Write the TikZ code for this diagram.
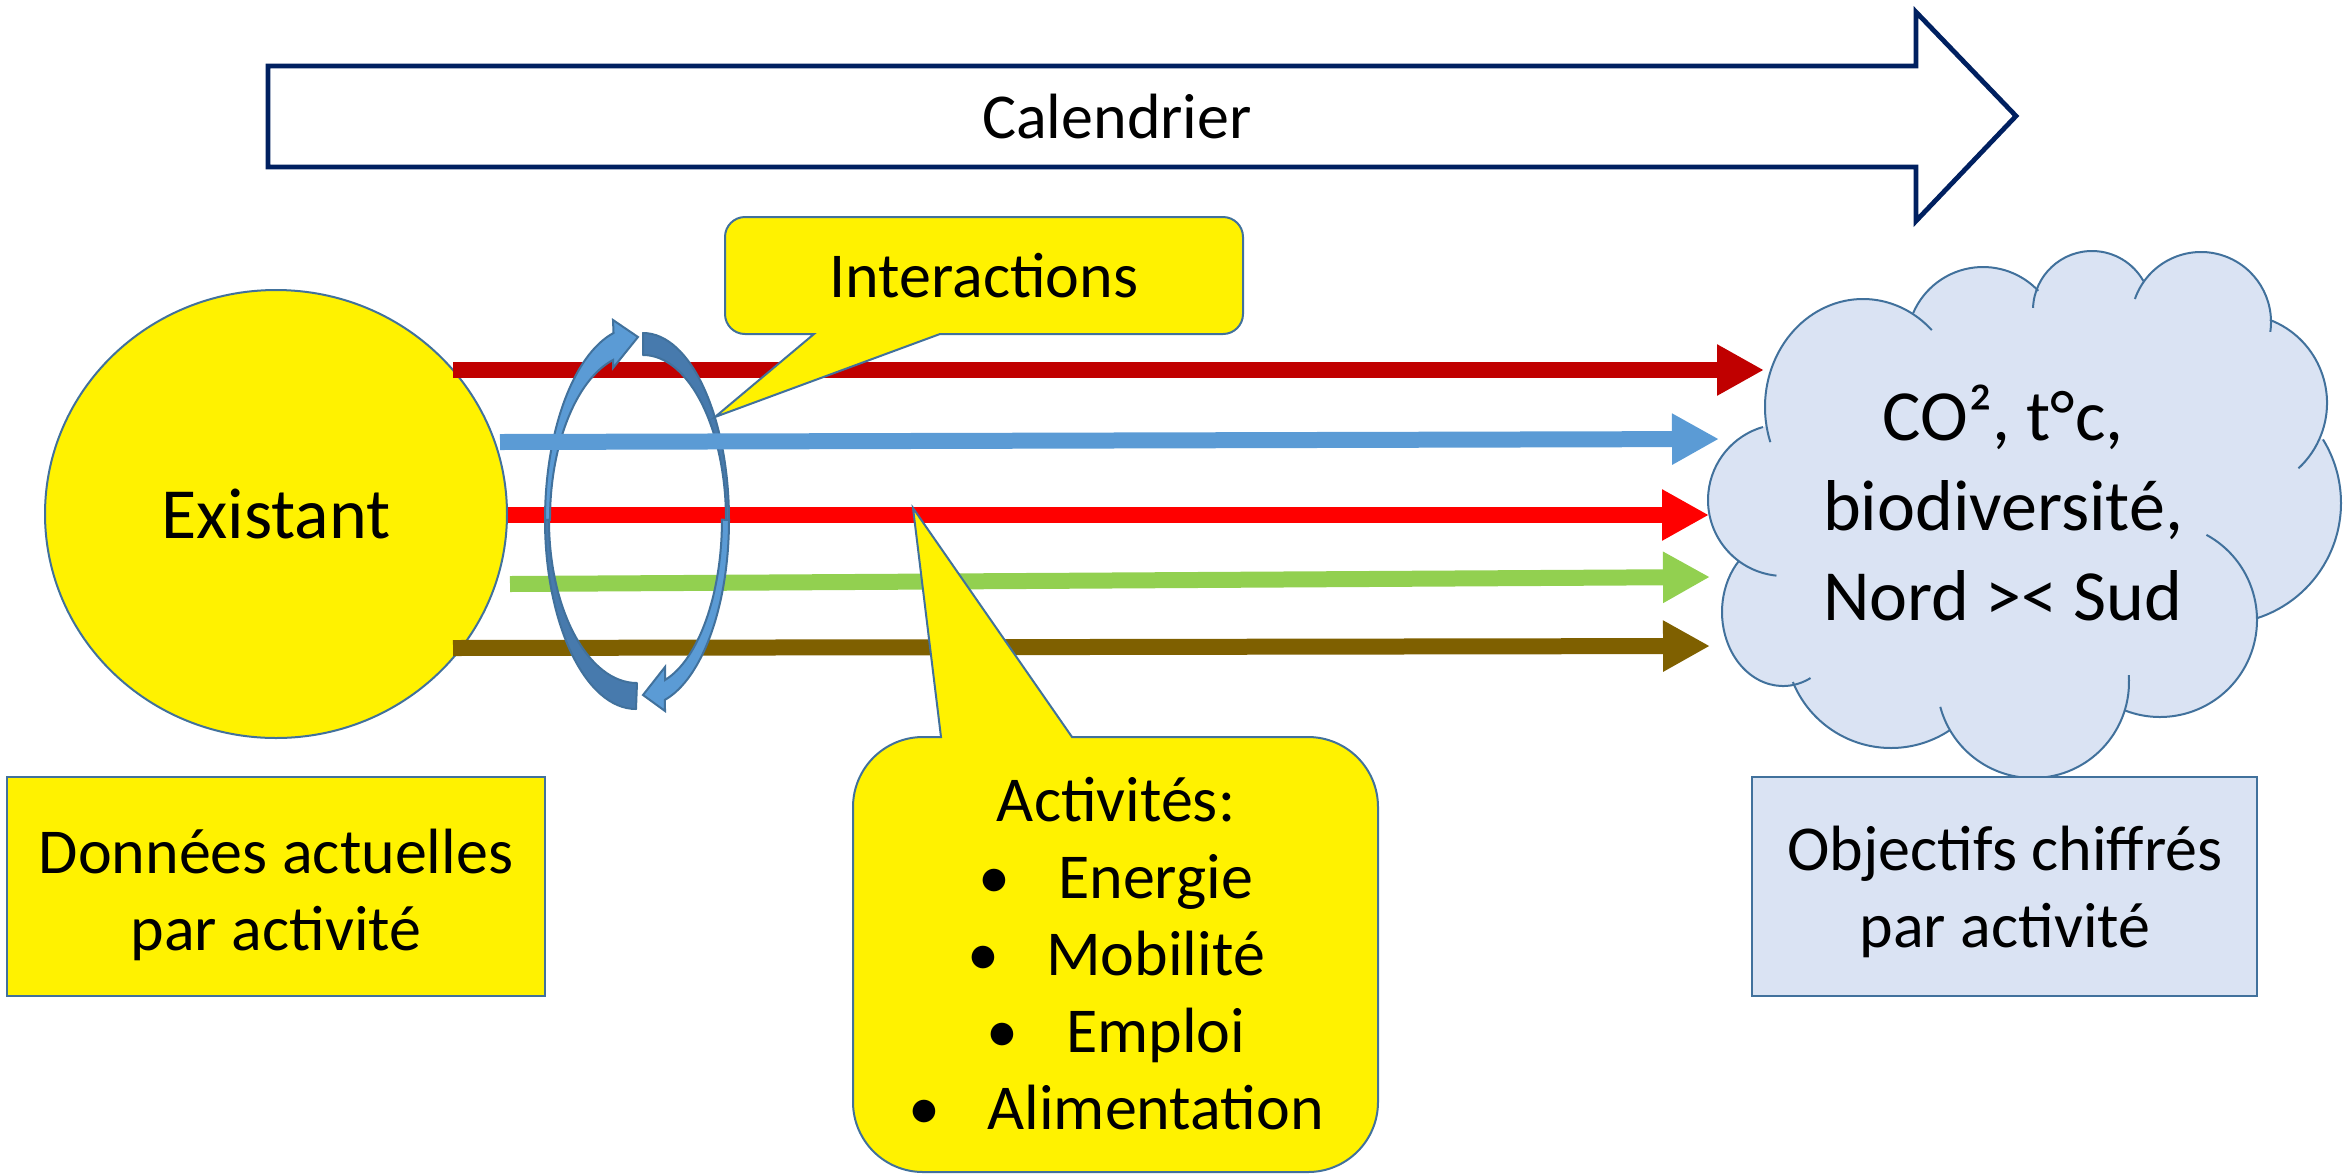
\documentclass[tikz,border=0pt]{standalone}
\usepackage{fontspec}
\setmainfont{Carlito}
\usetikzlibrary{arrows.meta,shapes.geometric,calc}

\definecolor{navy}{HTML}{002060}
\definecolor{edge}{HTML}{41719C}
\definecolor{cloudfill}{HTML}{DAE3F3}
\definecolor{darkred}{HTML}{C00000}
\definecolor{skyblue}{HTML}{5B9BD5}
\definecolor{brightred}{HTML}{FF0000}
\definecolor{leaf}{HTML}{92D050}
\definecolor{earth}{HTML}{7F6000}
\definecolor{loopdark}{HTML}{477AAD}

\begin{document}
\begin{tikzpicture}[x=0.5pt,y=-0.5pt,
  t32/.style={font=\fontsize{32pt}{38.5pt}\selectfont},
  t36/.style={font=\fontsize{36pt}{45pt}\selectfont},
  outline/.style={draw=edge,line width=1pt},
  trend/.style={line width=8pt,-{Triangle[length=23.5pt,width=24pt]}},
  loopback/.style={outline,fill=loopdark,line join=round},
  loopfront/.style={outline,fill=skyblue,line join=miter},
]
\useasboundingbox (0,0) rectangle (2351,1174);

% timeline block arrow
\draw[navy,line width=2.4pt,fill=white,line join=miter]
  (268,66) -- (1916,66) -- (1916,12) -- (2016,116) -- (1916,221) -- (1916,167) -- (268,167) -- cycle;
\node[t32] (cal) at (1117,117) {Calendrier};

% current state
\node[ellipse,draw=edge,line width=1pt,fill=yellow,minimum width=231pt,minimum height=224pt,inner sep=0pt,t36]
  (exist) at (276,514) {Existant};

% activity trajectories
\coordinate (r1s) at (453,370);  \coordinate (r1e) at (1764,370);
\coordinate (bls) at (500,442);  \coordinate (ble) at (1719,439);
\coordinate (r2s) at (508,515);  \coordinate (r2e) at (1709,515);
\coordinate (gns) at (510,584);  \coordinate (gne) at (1710,577);
\coordinate (bns) at (453,648);  \coordinate (bne) at (1710,646);
\draw[trend,darkred]   (r1s) -- (r1e);
\draw[trend,brightred] (r2s) -- (r2e);
\draw[trend,leaf]      (gns) -- (gne);
\draw[trend,earth]     (bns) -- (bne);

% interaction loop: left curved arrow
\draw[loopback] (636,709) arc[start angle=90,end angle=180,x radius=91,y radius=189]
  -- (549,520) arc[start angle=180,end angle=90,x radius=88,y radius=163] -- cycle;
\draw[loopfront] (545,520) arc[start angle=180,end angle=255.7,x radius=91,y radius=193]
  -- (613,320) -- (638,337) -- (613,368) -- (613,360)
  arc[start angle=254.5,end angle=180,x radius=86,y radius=166] -- cycle;
% interaction loop: right curved arrow
\draw[loopback] (643,333) arc[start angle=270,end angle=360,x radius=86,y radius=187]
  -- (726,520) arc[start angle=360,end angle=270,x radius=83,y radius=165] -- cycle;
\draw[loopfront] (729,520) arc[start angle=0,end angle=75.2,x radius=86,y radius=186]
  -- (665,711) -- (643,695) -- (665,667) -- (665,680)
  arc[start angle=73.8,end angle=0,x radius=79,y radius=167] -- cycle;

\draw[trend,skyblue] (bls) -- (ble);

% callout: interactions
\draw[outline,fill=yellow]
  (814,334) -- (715,417) -- (940,334) -- (1223,334)
  arc[start angle=90,end angle=0,radius=20] -- (1243,237)
  arc[start angle=0,end angle=-90,radius=20] -- (745,217)
  arc[start angle=270,end angle=180,radius=20] -- (725,314)
  arc[start angle=180,end angle=90,radius=20] -- cycle;
\node[t32] (inter) at (984,276) {Interactions};

% callout: activities
\draw[outline,fill=yellow]
  (941,737) -- (913,508) -- (1072,737) -- (1308,737)
  arc[start angle=270,end angle=360,radius=70] -- (1378,1102)
  arc[start angle=0,end angle=90,radius=70] -- (923,1172)
  arc[start angle=90,end angle=180,radius=70] -- (853,807)
  arc[start angle=180,end angle=270,radius=70] -- cycle;
\node[t32,align=center] (acts) at (1116,954)
  {Activités:\\
   \textbullet\hspace{0.74em}Energie\\
   \textbullet\hspace{0.74em}Mobilité\\
   \textbullet\hspace{0.74em}Emploi\\
   \textbullet\hspace{0.74em}Alimentation};

% goal cloud
\fill[cloudfill]
  ($(1863,407)+({98*cos(170)},{108*sin(170)})$) arc[start angle=170,end angle=300.4,x radius=98,y radius=108]
  -- ($(1983,343)+(203.2:76)$) arc[start angle=203.2,end angle=316.6,radius=76]
  -- ($(2092,310)+(198:59)$) arc[start angle=198,end angle=330.5,radius=59]
  -- ($(2201,322)+(216.9:70)$) arc[start angle=216.9,end angle=358.3,radius=70]
  -- ($(2238,403)+(291:89)$) arc[start angle=291,end angle=383.8,radius=89]
  -- ($(2220,503)+(328.3:121)$) arc[start angle=328.3,end angle=432.3,radius=121]
  -- ($(2160,620)+(359.4:97)$) arc[start angle=359.4,end angle=471.3,radius=97]
  -- ($(2033,682)+(376.9:96)$) arc[start angle=376.9,end angle=510,radius=96]
  -- ($(1891,642)+(56.2:106)$) arc[start angle=56.2,end angle=157.8,radius=106]
  -- ($(1783,612)+({61*cos(80.2)},{74*sin(80.2)})$) arc[start angle=80.2,end angle=223.8,x radius=61,y radius=74]
  -- ($(1784,500)+(125.4:76)$) arc[start angle=125.4,end angle=253.9,radius=76]
  -- cycle;
\foreach \cx/\cy/\rx/\ry/\a/\b in {
    1863/407/98/108/161/314.6, 1983/343/76/76/203.2/316.6,
    2092/310/59/59/182/330.5, 2201/322/70/70/199.2/368.1,
    2238/403/89/89/291/407.2, 2220/503/121/121/328.3/432.3,
    2160/620/97/97/298.6/471.3, 2033/682/96/96/355.9/525,
    1891/642/106/106/56.2/157.8, 1783/612/61/74/63.2/223.8,
    1784/500/76/76/95.7/253.9}
  \draw[outline] ($(\cx,\cy)+({\rx*cos(\a)},{\ry*sin(\a)})$)
    arc[start angle=\a,end angle=\b,x radius=\rx,y radius=\ry];
\node[t36,align=center] (goal) at (2003,503) {CO², t°c,\\biodiversité,\\Nord >< Sud};

% bottom labels
\draw[outline,fill=yellow] (7,777) rectangle (545,996);
\node[t32,align=center] (donnees) at (276,895) {Données actuelles\\par activité};
\draw[outline,fill=cloudfill] (1752,777) rectangle (2257,996);
\node[t32,align=center] (objectifs) at (2005,892) {Objectifs chiffrés\\par activité};
\end{tikzpicture}
\end{document}
